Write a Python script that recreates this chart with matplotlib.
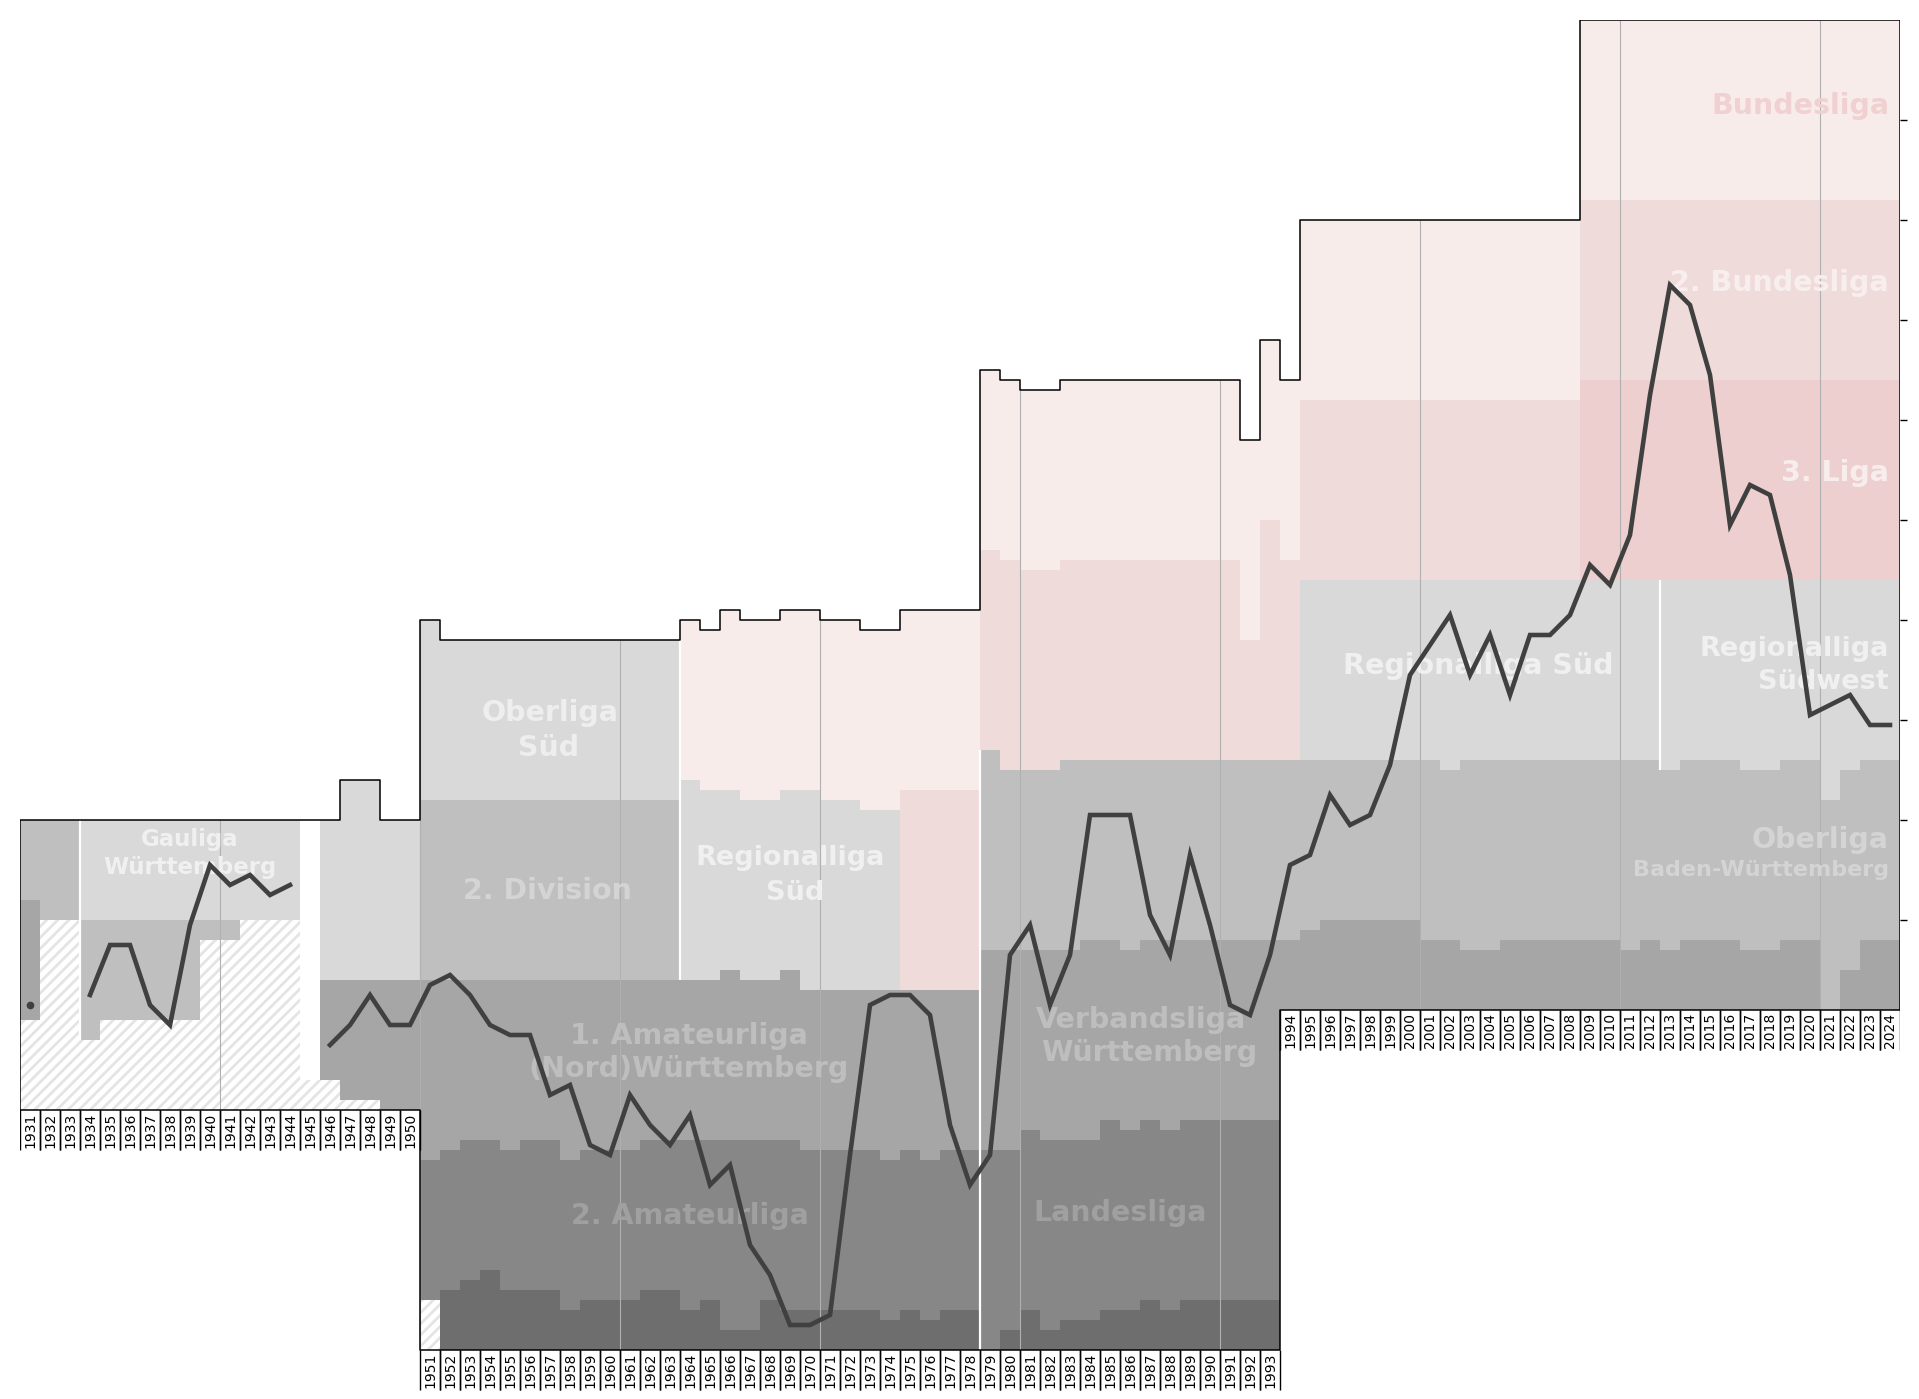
import numpy as np
import matplotlib
matplotlib.use('Agg')
import matplotlib.pyplot as plt

plt.rcParams['hatch.color'] = '#e4e4e4'
plt.rcParams['hatch.linewidth'] = 2.0

# league colours
C_BL = '#f8eceb'
C_2BL = '#f0dbdb'
C_3L = '#edcfcf'
C_RL = '#d9d9d9'
C_OL = '#bfbfbf'
C_VL = '#a6a6a6'
C_LL = '#878787'
C_BZ = '#6e6e6e'

# ---- league layout per season (edges in table places, counted from the top) ----
yrs_1931 = [1931, 1932, 1933]
cols_1931 = [C_OL, C_VL]
edges_1931 = [[80, 80, 80], [88, 90, 90], [100, 90, 90]]

yrs_1934 = list(range(1934, 1945))
cols_1934 = [C_RL, C_OL]
edges_1934 = [[80] * 11, [90] * 11,
              [102, 100, 100, 100, 100, 100, 92, 92, 90, 90, 90]]

yrs_1945 = [1945]
cols_1945 = [None]
edges_1945 = [[80], [106]]

yrs_1946 = list(range(1946, 1951))
cols_1946 = [C_RL, C_VL]
edges_1946 = [[80, 76, 76, 80, 80], [96] * 5, [106, 108, 108, 109, 109]]

yrs_1951 = list(range(1951, 1964))
cols_1951 = [C_RL, C_OL, C_VL, C_LL, C_BZ]
edges_1951 = [[60] + [62] * 12, [78] * 13, [96] * 13,
              [114, 113, 112, 112, 113, 112, 112, 114, 113, 113, 113, 112, 112],
              [128, 127, 126, 125, 127, 127, 127, 129, 128, 128, 128, 127, 127],
              [128] + [133] * 12]

yrs_1964 = list(range(1964, 1975))
cols_1964 = [C_BL, C_RL, C_VL, C_LL, C_BZ]
edges_1964 = [[60, 61, 59, 60, 60, 59, 59, 60, 60, 61, 61],
              [76, 77, 77, 78, 78, 77, 77, 78, 78, 79, 79],
              [96, 96, 95, 96, 96, 95, 97, 97, 97, 97, 97],
              [112, 112, 112, 112, 112, 112, 113, 113, 113, 113, 114],
              [129, 128, 131, 131, 128, 129, 129, 129, 129, 129, 130],
              [133] * 11]

yrs_1975 = [1975, 1976, 1977, 1978]
cols_1975 = [C_BL, C_2BL, C_VL, C_LL, C_BZ]
edges_1975 = [[59] * 4, [77] * 4, [97] * 4, [113, 114, 113, 113],
              [129, 130, 129, 129], [133] * 4]

yrs_1979 = list(range(1979, 1994))
cols_1979 = [C_BL, C_2BL, C_OL, C_VL, C_LL, C_BZ]
edges_1979 = [[35, 36, 37, 37, 36, 36, 36, 36, 36, 36, 36, 36, 36, 42, 32],
              [53, 54, 55, 55, 54, 54, 54, 54, 54, 54, 54, 54, 54, 62, 50],
              [73, 75, 75, 75, 74, 74, 74, 74, 74, 74, 74, 74, 74, 74, 74],
              [93, 93, 93, 93, 93, 92, 92, 93, 92, 92, 92, 92, 92, 92, 92],
              [113, 113, 111, 112, 112, 112, 110, 111, 110, 111, 110, 110, 110, 110, 110],
              [133, 131, 129, 131, 130, 130, 129, 129, 128, 129, 128, 128, 128, 128, 128],
              [133] * 15]

yrs_1994 = [1994]
cols_1994 = [C_BL, C_2BL, C_OL, C_VL]
edges_1994 = [[36], [54], [74], [92], [99]]

yrs_1995 = list(range(1995, 2009))
cols_1995 = [C_BL, C_2BL, C_RL, C_OL, C_VL]
edges_1995 = [[20] * 14, [38] * 14, [56] * 14,
              [74, 74, 74, 74, 74, 74, 74, 75, 74, 74, 74, 74, 74, 74],
              [91, 90, 90, 90, 90, 90, 92, 92, 93, 93, 92, 92, 92, 92],
              [99] * 14]

yrs_2009 = list(range(2009, 2025))
cols_2009 = [C_BL, C_2BL, C_3L, C_RL, C_OL, C_VL]
edges_2009 = [[0] * 16, [18] * 16, [36] * 16, [56] * 16,
              [74, 74, 74, 74, 75, 74, 74, 74, 75, 75, 74, 74, 78, 75, 74, 74],
              [92, 92, 93, 92, 93, 92, 92, 92, 93, 93, 92, 92, 99, 95, 92, 92],
              [99] * 16]

eras = [
    (yrs_1931, cols_1931, edges_1931, 109),
    (yrs_1934, cols_1934, edges_1934, 109),
    (yrs_1945, cols_1945, edges_1945, 109),
    (yrs_1946, cols_1946, edges_1946, 109),
    (yrs_1951, cols_1951, edges_1951, 133),
    (yrs_1964, cols_1964, edges_1964, 133),
    (yrs_1975, cols_1975, edges_1975, 133),
    (yrs_1979, cols_1979, edges_1979, 133),
    (yrs_1994, cols_1994, edges_1994, 99),
    (yrs_1995, cols_1995, edges_1995, 99),
    (yrs_2009, cols_2009, edges_2009, 99),
]

# ---- club: league (band index in that season) and final place ----
seasons = list(range(1931, 2025))
club_band = [1, None, None, 1, 1, 1, 1, 1, 1, 0,
             0, 0, 0, 0, None, 1, 1, 1, 1, 1,
             2, 1, 2, 2, 2, 2, 2, 2, 2, 3,
             2, 2, 3, 2, 3, 3, 3, 3, 4, 4,
             4, 3, 2, 2, 2, 2, 2, 3, 4, 3,
             2, 3, 3, 2, 2, 2, 2, 3, 2, 2,
             3, 3, 3, 2, 3, 3, 3, 3, 3, 2,
             2, 2, 2, 2, 2, 2, 2, 2, 2, 3,
             2, 2, 1, 1, 1, 2, 2, 2, 2, 3,
             3, 3, 3, 3]
club_place = [11, None, None, 8, 3, 3, 9, 11, 1, 5,
              7, 6, 8, 7, None, 7, 5, 2, 5, 5,
              1, 18, 2, 5, 6, 6, 12, 11, 17, 1,
              12, 15, 1, 14, 5, 3, 11, 14, 2, 2,
              1, 1, 2, 1, 1, 3, 14, 4, 1, 1,
              16, 6, 1, 6, 6, 6, 16, 2, 10, 17,
              7, 8, 2, 11, 10, 4, 7, 6, 1, 10,
              7, 4, 10, 6, 12, 6, 6, 4, 19, 1,
              16, 2, 9, 11, 18, 15, 11, 12, 20, 14,
              13, 12, 15, 15]

# ---- league names ----
lbl_text = ['Gauliga', 'Württemberg', 'Oberliga', 'Süd', '2. Division',
            'Regionalliga', 'Süd', '1. Amateurliga', '(Nord)Württemberg',
            '2. Amateurliga', 'Verbandsliga', 'Württemberg', 'Landesliga',
            'Regionalliga Süd', 'Regionalliga', 'Südwest', 'Oberliga',
            'Baden-Württemberg', 'Bundesliga', '2. Bundesliga', '3. Liga']
lbl_x = [1939.5, 1939.5, 1957.5, 1957.45, 1957.35, 1969.5, 1969.75, 1964.45, 1964.45,
         1964.5, 1987.05, 1987.45, 1986.0, 2003.9, 2024.45, 2024.45, 2024.45,
         2024.45, 2024.45, 2024.45, 2024.45]
lbl_y = [81.7, 84.5, 69.0, 72.5, 86.8, 83.5, 87.0, 101.3, 104.6,
         119.3, 99.7, 103.0, 119.0, 64.3, 62.6, 65.9, 81.7,
         84.8, 8.3, 26.0, 45.0]
lbl_size = [16.5, 16.5, 20.5, 20.5, 20.5, 19.5, 19.5, 20.5, 20.5,
            20.5, 20.5, 20.5, 20.5, 20.5, 19.5, 19.5, 20.5,
            16, 20.5, 20.5, 20.5]
lbl_color = ['#f0f0f0', '#f0f0f0', '#eeeeee', '#eeeeee', '#d4d4d4', '#f0f0f0', '#f0f0f0',
             '#bebebe', '#bebebe', '#a0a0a0', '#bebebe', '#bebebe', '#a0a0a0',
             '#f0f0f0', '#f0f0f0', '#f0f0f0', '#d4d4d4', '#d4d4d4',
             '#f0d0d0', '#f8eeee', '#f8eded']
lbl_ha = ['center'] * 14 + ['right'] * 7

# ---- figure ----
fig = plt.figure(figsize=(19.19, 13.99), dpi=100)
ax = fig.add_axes([20 / 1919, 0, 1880 / 1919, 1379 / 1399])
ax.set_xlim(1931, 2025)
ax.set_ylim(137.9, 0)

tops, bases, band_edges = {}, {}, {}
for yrs, cols, edges, base in eras:
    x = np.array(yrs)
    e = [np.array(v, dtype=float) for v in edges]
    for k, c in enumerate(cols):
        if c is None:
            continue
        ax.bar(x, e[k + 1] - e[k], bottom=e[k], width=1, align='edge',
               color=c, linewidth=0, zorder=1)
    h = base - e[-1]
    m = h > 0
    if m.any():
        ax.bar(x[m], h[m], bottom=e[-1][m], width=1, align='edge', color='white',
               edgecolor='#e4e4e4', hatch='///', linewidth=0, zorder=1)
    for i, yr in enumerate(yrs):
        tops[yr] = e[0][i]
        bases[yr] = base
        band_edges[yr] = [v[i] for v in e]

# decade lines
for yr in range(1941, 2025, 10):
    ax.vlines(yr, tops[yr], bases[yr], color='#b0b0b0', lw=0.8, zorder=2)

# white lines where the league system changed
for xs, a, b in [(1934, 80, 102), (1964, 62, 96), (1979, 73, 133), (2013, 56, 75)]:
    ax.vlines(xs, a, b, color='white', lw=1.6, zorder=2)

# league names
for t, x, y, s, c, ha in zip(lbl_text, lbl_x, lbl_y, lbl_size, lbl_color, lbl_ha):
    ax.text(x, y, t, fontsize=s, color=c, ha=ha, va='center_baseline',
            fontweight='bold', zorder=3)

# club line
cy = []
for yr, b, p in zip(seasons, club_band, club_place):
    if b is None:
        cy.append(np.nan)
    else:
        cy.append(band_edges[yr][b] + p - 0.5)
cx = np.array(seasons) + 0.5
cy = np.array(cy)
ax.plot(cx, cy, color='#404040', lw=3.3, zorder=4, solid_joinstyle='miter')
for i in range(len(cy)):
    left = np.isnan(cy[i - 1]) if i > 0 else True
    right = np.isnan(cy[i + 1]) if i < len(cy) - 1 else True
    if not np.isnan(cy[i]) and left and right:
        ax.plot(cx[i], cy[i], 'o', color='#404040', ms=4.5, zorder=4)

# outline
ox, oy = [1931, 1931], [bases[1931], tops[1931]]
for yr in seasons:
    ox += [yr, yr + 1]
    oy += [tops[yr], tops[yr]]
for yr in reversed(seasons):
    ox += [yr + 1, yr]
    oy += [bases[yr], bases[yr]]
ax.plot(ox, oy, color='black', lw=1.1, zorder=5)

# season labels
for yr in seasons:
    ax.text(yr + 0.5, bases[yr] + 2.05, str(yr), rotation=90, ha='center',
            va='center', fontsize=10, zorder=5)
    ax.vlines([yr, yr + 1], bases[yr], bases[yr] + 4, color='black', lw=1.0, zorder=5)

for s in ax.spines.values():
    s.set_visible(False)
ax.set_xticks([])
ax.yaxis.tick_right()
ax.set_yticks(np.arange(10, 100, 10))
ax.tick_params(axis='y', length=5, width=1, direction='out', labelright=False)
ax.patch.set_alpha(0)

fig.savefig('out.png', dpi=100)
